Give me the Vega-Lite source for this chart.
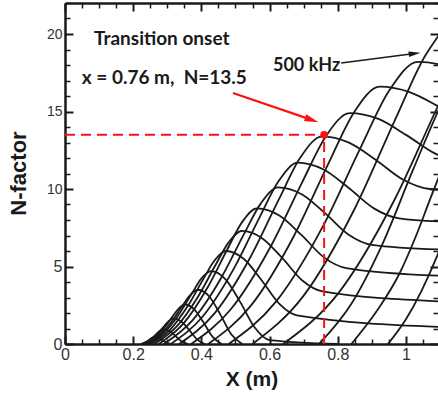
{
"$schema": "https://vega.github.io/schema/vega-lite/v6.json",
"width": 373, "height": 341,
"autosize": "none",
"padding": {"left": 65, "top": 3, "right": 0, "bottom": 52},
"background": "white",
"config": {"view": {"stroke": null}},
"datasets": {
"curves": [
{"f":1,"x":0.222,"n":0},{"f":1,"x":0.232,"n":0.07},{"f":1,"x":0.242,"n":0.19},{"f":1,"x":0.25,"n":0.32},{"f":1,"x":0.256,"n":0.41},{"f":1,"x":0.262,"n":0.45},{"f":1,"x":0.274,"n":0.4},{"f":1,"x":0.286,"n":0.25},{"f":1,"x":0.298,"n":0.08},{"f":1,"x":0.31,"n":0},
{"f":2,"x":0.225,"n":0},{"f":2,"x":0.2408,"n":0.14},{"f":2,"x":0.2565,"n":0.4},{"f":2,"x":0.2691,"n":0.67},{"f":2,"x":0.2786,"n":0.86},{"f":2,"x":0.288,"n":0.95},{"f":2,"x":0.306,"n":0.84},{"f":2,"x":0.324,"n":0.52},{"f":2,"x":0.342,"n":0.17},{"f":2,"x":0.36,"n":0},
{"f":3,"x":0.228,"n":0},{"f":3,"x":0.2505,"n":0.25},{"f":3,"x":0.273,"n":0.69},{"f":3,"x":0.291,"n":1.16},{"f":3,"x":0.3045,"n":1.49},{"f":3,"x":0.318,"n":1.65},{"f":3,"x":0.341,"n":1.45},{"f":3,"x":0.364,"n":0.91},{"f":3,"x":0.387,"n":0.3},{"f":3,"x":0.41,"n":0},
{"f":4,"x":0.232,"n":0},{"f":4,"x":0.262,"n":0.38},{"f":4,"x":0.292,"n":1.07},{"f":4,"x":0.316,"n":1.79},{"f":4,"x":0.334,"n":2.3},{"f":4,"x":0.352,"n":2.55},{"f":4,"x":0.379,"n":2.24},{"f":4,"x":0.406,"n":1.4},{"f":4,"x":0.433,"n":0.46},{"f":4,"x":0.46,"n":0},
{"f":5,"x":0.237,"n":0},{"f":5,"x":0.2753,"n":0.53},{"f":5,"x":0.3135,"n":1.47},{"f":5,"x":0.3441,"n":2.45},{"f":5,"x":0.3671,"n":3.15},{"f":5,"x":0.39,"n":3.5},{"f":5,"x":0.4225,"n":3.08},{"f":5,"x":0.455,"n":1.93},{"f":5,"x":0.4875,"n":0.63},{"f":5,"x":0.52,"n":0},
{"f":6,"x":0.244,"n":0},{"f":6,"x":0.29,"n":0.71},{"f":6,"x":0.336,"n":1.97},{"f":6,"x":0.3728,"n":3.29},{"f":6,"x":0.4004,"n":4.23},{"f":6,"x":0.428,"n":4.7},{"f":6,"x":0.471,"n":4.17},{"f":6,"x":0.514,"n":2.7},{"f":6,"x":0.557,"n":1.05},{"f":6,"x":0.6,"n":0.25},{"f":6,"x":0.8,"n":0},
{"f":7,"x":0.252,"n":0},{"f":7,"x":0.307,"n":0.9},{"f":7,"x":0.362,"n":2.52},{"f":7,"x":0.406,"n":4.2},{"f":7,"x":0.439,"n":5.4},{"f":7,"x":0.472,"n":6},{"f":7,"x":0.524,"n":5.5},{"f":7,"x":0.576,"n":4.13},{"f":7,"x":0.628,"n":2.6},{"f":7,"x":0.68,"n":1.85},{"f":7,"x":1.1,"n":1.1},
{"f":8,"x":0.262,"n":0},{"f":8,"x":0.3263,"n":1.1},{"f":8,"x":0.3905,"n":3.07},{"f":8,"x":0.4419,"n":5.11},{"f":8,"x":0.4805,"n":6.57},{"f":8,"x":0.519,"n":7.3},{"f":8,"x":0.578,"n":6.83},{"f":8,"x":0.637,"n":5.55},{"f":8,"x":0.696,"n":4.1},{"f":8,"x":0.755,"n":3.4},{"f":8,"x":1.1,"n":2.75},
{"f":9,"x":0.275,"n":0},{"f":9,"x":0.347,"n":1.31},{"f":9,"x":0.419,"n":3.68},{"f":9,"x":0.4766,"n":6.13},{"f":9,"x":0.5198,"n":7.88},{"f":9,"x":0.563,"n":8.75},{"f":9,"x":0.6285,"n":8.29},{"f":9,"x":0.694,"n":7.02},{"f":9,"x":0.7595,"n":5.59},{"f":9,"x":0.825,"n":4.9},{"f":9,"x":1.1,"n":4.4},
{"f":10,"x":0.29,"n":0},{"f":10,"x":0.3738,"n":1.52},{"f":10,"x":0.4575,"n":4.24},{"f":10,"x":0.5245,"n":7.07},{"f":10,"x":0.5748,"n":9.09},{"f":10,"x":0.625,"n":10.1},{"f":10,"x":0.694,"n":9.66},{"f":10,"x":0.7625,"n":8.44},{"f":10,"x":0.831,"n":7.07},{"f":10,"x":0.9,"n":6.4},{"f":10,"x":1.1,"n":6.1},
{"f":11,"x":0.31,"n":0},{"f":11,"x":0.4033,"n":1.76},{"f":11,"x":0.4965,"n":4.91},{"f":11,"x":0.5711,"n":8.19},{"f":11,"x":0.6271,"n":10.53},{"f":11,"x":0.683,"n":11.7},{"f":11,"x":0.757,"n":11.27},{"f":11,"x":0.8315,"n":10.08},{"f":11,"x":0.906,"n":8.75},{"f":11,"x":0.98,"n":8.1},{"f":11,"x":1.1,"n":7.9},
{"f":12,"x":0.335,"n":0},{"f":12,"x":0.4398,"n":2.01},{"f":12,"x":0.5445,"n":5.63},{"f":12,"x":0.6283,"n":9.38},{"f":12,"x":0.6912,"n":12.06},{"f":12,"x":0.754,"n":13.4},{"f":12,"x":0.833,"n":12.99},{"f":12,"x":0.912,"n":11.87},{"f":12,"x":0.991,"n":10.61},{"f":12,"x":1.07,"n":10},{"f":12,"x":1.2,"n":9.9},
{"f":13,"x":0.37,"n":0},{"f":13,"x":0.4863,"n":2.24},{"f":13,"x":0.6025,"n":6.26},{"f":13,"x":0.6955,"n":10.43},{"f":13,"x":0.7653,"n":13.41},{"f":13,"x":0.835,"n":14.9},{"f":13,"x":0.919,"n":14.52},{"f":13,"x":1.0025,"n":13.46},{"f":13,"x":1.086,"n":12.28},{"f":13,"x":1.17,"n":11.7},{"f":13,"x":1.3,"n":11.6},
{"f":14,"x":0.42,"n":0},{"f":14,"x":0.5458,"n":2.49},{"f":14,"x":0.6715,"n":6.97},{"f":14,"x":0.7721,"n":11.62},{"f":14,"x":0.8476,"n":14.94},{"f":14,"x":0.923,"n":16.6},{"f":14,"x":1.0123,"n":16.24},{"f":14,"x":1.1015,"n":15.25},{"f":14,"x":1.19,"n":14.14},{"f":14,"x":1.28,"n":13.6},
{"f":15,"x":0.48,"n":0},{"f":15,"x":0.6188,"n":2.73},{"f":15,"x":0.7575,"n":7.64},{"f":15,"x":0.8685,"n":12.74},{"f":15,"x":0.9518,"n":16.38},{"f":15,"x":1.035,"n":18.2},{"f":15,"x":1.129,"n":17.85},{"f":15,"x":1.2225,"n":16.9},{"f":15,"x":1.316,"n":15.82},{"f":15,"x":1.41,"n":15.3},
{"f":16,"x":0.55,"n":0},{"f":16,"x":0.7,"n":3.12},{"f":16,"x":0.85,"n":8.74},{"f":16,"x":0.97,"n":14.56},{"f":16,"x":1.06,"n":18.72},{"f":16,"x":1.15,"n":20.8},{"f":16,"x":1.25,"n":20.4},
{"f":17,"x":0.64,"n":0},{"f":17,"x":0.8025,"n":3.3},{"f":17,"x":0.965,"n":9.24},{"f":17,"x":1.095,"n":15.4},{"f":17,"x":1.1925,"n":19.8},{"f":17,"x":1.29,"n":22},
{"f":18,"x":0.745,"n":0},{"f":18,"x":0.84,"n":2.6},{"f":18,"x":0.93,"n":6.4},{"f":18,"x":1.02,"n":11.2},{"f":18,"x":1.1,"n":15.3},{"f":18,"x":1.2,"n":19.5},
{"f":19,"x":0.84,"n":0},{"f":19,"x":0.92,"n":2.3},{"f":19,"x":0.98,"n":4.5},{"f":19,"x":1.03,"n":7},{"f":19,"x":1.07,"n":9.3},{"f":19,"x":1.15,"n":13.8},
{"f":20,"x":0.947,"n":0},{"f":20,"x":1.0,"n":1.6},{"f":20,"x":1.045,"n":3.4},{"f":20,"x":1.09,"n":5.6},{"f":20,"x":1.14,"n":8.5}
],
"onset": [{"x":0.76,"n":13.5}],
"hline": [{"x0":0,"x1":0.76,"n":13.5}],
"vline": [{"x":0.76,"n0":0,"n1":13.5}],
"blackArrow": [{"x":0.81,"n":18.13},{"x":1.0255,"n":18.74}],
"blackHead": [{"x":1.0255,"n":18.74}],
"redArrow": [{"x":0.4927,"n":16.19},{"x":0.7238,"n":14.46}],
"redHead": [{"x":0.7238,"n":14.46}],
"labelsA": [
{"x":0.085,"n":19.31,"t":"Transition onset"},
{"x":0.049,"n":16.79,"t":"x = 0.76 m,\u00a0 N=13.5"}
],
"labelsB": [
{"x":0.61,"n":17.63,"t":"500 kHz"}
]
},
"layer": [
{
"data": {"name": "curves"},
"mark": {"type": "line", "interpolate": "monotone", "clip": true, "color": "#1a1a1a", "strokeWidth": 1.8},
"encoding": {
"x": {"field": "x", "type": "quantitative", "scale": {"domain": [0, 1.094], "nice": false, "zero": false},
"axis": {"orient": "bottom",
"values": [0,0.05,0.1,0.15,0.2,0.25,0.3,0.35,0.4,0.45,0.5,0.55,0.6,0.65,0.7,0.75,0.8,0.85,0.9,0.95,1,1.05],
"format": "~g",
"labelExpr": "abs(datum.value*5-round(datum.value*5))<0.001 ? datum.label : ''",
"tickSize": {"condition": {"test": "abs(datum.value*5-round(datum.value*5))<0.001", "value": -8}, "value": -5},
"tickWidth": {"condition": {"test": "abs(datum.value*5-round(datum.value*5))<0.001", "value": 2}, "value": 1.5},
"tickColor": "#1a1a1a", "domainColor": "#1a1a1a", "domainWidth": 2.5,
"labelFont": "Liberation Sans", "labelFontSize": 16, "labelColor": "#333333", "labelPadding": 10,
"labelFlush": false, "labelOverlap": false, "labelBound": false, "grid": false,
"title": "X (m)", "titleFont": "Liberation Sans", "titleFontSize": 21, "titleFontWeight": "bold", "titleColor": "#1a1a1a",
"titleX": 186.5, "titleY": 41, "titleBaseline": "alphabetic", "titleAlign": "center"}},
"y": {"field": "n", "type": "quantitative", "scale": {"domain": [0, 22], "nice": false, "zero": false},
"axis": {"orient": "left",
"values": [0,1,2,3,4,5,6,7,8,9,10,11,12,13,14,15,16,17,18,19,20,21,22],
"labelExpr": "datum.value % 5 == 0 ? (datum.value >= 10 ? datum.label + '\u00a0\u00a0\u00a0' : datum.label) : ''",
"tickSize": {"condition": {"test": "datum.value % 5 == 0", "value": -8}, "value": -5},
"tickWidth": {"condition": {"test": "datum.value % 5 == 0", "value": 2}, "value": 1.5},
"labelFontSize": {"condition": {"test": "datum.value >= 10", "value": 14}, "value": 16},
"tickColor": "#1a1a1a", "domainColor": "#1a1a1a", "domainWidth": 2.5,
"labelFont": "Liberation Sans", "labelColor": "#333333", "labelPadding": 11,
"labelOverlap": false, "labelBound": false, "labelFlush": false, "grid": false,
"title": "N-factor", "titleFont": "Liberation Sans", "titleFontSize": 22, "titleFontWeight": "bold", "titleColor": "#1a1a1a",
"titleX": -40, "titleY": 170, "titleAngle": 270, "titleBaseline": "alphabetic", "titleAlign": "center"}},
"detail": {"field": "f", "type": "nominal"}
}
},
{
"data": {"name": "hline"},
"mark": {"type": "rule", "color": "#ff1010", "strokeWidth": 2, "strokeDash": [10, 6]},
"encoding": {
"x": {"field": "x0", "type": "quantitative", "scale": {"domain": [0, 1.094], "nice": false, "zero": false},
"axis": {"orient": "top",
"values": [0,0.05,0.1,0.15,0.2,0.25,0.3,0.35,0.4,0.45,0.5,0.55,0.6,0.65,0.7,0.75,0.8,0.85,0.9,0.95,1,1.05],
"labels": false, "title": null, "grid": false,
"tickSize": {"condition": {"test": "abs(datum.value*5-round(datum.value*5))<0.001", "value": -8}, "value": -5},
"tickWidth": {"condition": {"test": "abs(datum.value*5-round(datum.value*5))<0.001", "value": 2}, "value": 1.5},
"tickColor": "#1a1a1a", "domainColor": "#1a1a1a", "domainWidth": 2.5}},
"x2": {"field": "x1"},
"y": {"field": "n", "type": "quantitative", "scale": {"domain": [0, 22], "nice": false, "zero": false},
"axis": {"orient": "right",
"values": [0,1,2,3,4,5,6,7,8,9,10,11,12,13,14,15,16,17,18,19,20,21,22],
"labels": false, "title": null, "grid": false, "domain": false,
"tickSize": {"condition": {"test": "datum.value % 5 == 0", "value": -8}, "value": -5},
"tickWidth": {"condition": {"test": "datum.value % 5 == 0", "value": 2}, "value": 1.5},
"tickColor": "#1a1a1a"}}
}
},
{
"data": {"name": "vline"},
"mark": {"type": "rule", "color": "#ff1010", "strokeWidth": 2, "strokeDash": [10, 6]},
"encoding": {
"x": {"field": "x", "type": "quantitative", "scale": {"domain": [0, 1.094], "nice": false, "zero": false}, "axis": null},
"y": {"field": "n0", "type": "quantitative", "scale": {"domain": [0, 22], "nice": false, "zero": false}, "axis": null},
"y2": {"field": "n1"}
}
},
{
"data": {"name": "onset"},
"mark": {"type": "point", "shape": "circle", "filled": true, "color": "#ff1010", "size": 60, "opacity": 1},
"encoding": {
"x": {"field": "x", "type": "quantitative", "scale": {"domain": [0, 1.094], "nice": false, "zero": false}, "axis": null},
"y": {"field": "n", "type": "quantitative", "scale": {"domain": [0, 22], "nice": false, "zero": false}, "axis": null}
}
},
{
"data": {"name": "blackArrow"},
"mark": {"type": "line", "color": "#1a1a1a", "strokeWidth": 1.6},
"encoding": {
"x": {"field": "x", "type": "quantitative", "scale": {"domain": [0, 1.094], "nice": false, "zero": false}, "axis": null},
"y": {"field": "n", "type": "quantitative", "scale": {"domain": [0, 22], "nice": false, "zero": false}, "axis": null}
}
},
{
"data": {"name": "blackHead"},
"mark": {"type": "point", "shape": "M-1,-0.45L1,0L-1,0.45Z", "filled": true, "color": "#1a1a1a", "size": 144, "angle": 352.7, "opacity": 1},
"encoding": {
"x": {"field": "x", "type": "quantitative", "scale": {"domain": [0, 1.094], "nice": false, "zero": false}, "axis": null},
"y": {"field": "n", "type": "quantitative", "scale": {"domain": [0, 22], "nice": false, "zero": false}, "axis": null}
}
},
{
"data": {"name": "redArrow"},
"mark": {"type": "line", "color": "#ff1010", "strokeWidth": 2.2},
"encoding": {
"x": {"field": "x", "type": "quantitative", "scale": {"domain": [0, 1.094], "nice": false, "zero": false}, "axis": null},
"y": {"field": "n", "type": "quantitative", "scale": {"domain": [0, 22], "nice": false, "zero": false}, "axis": null}
}
},
{
"data": {"name": "redHead"},
"mark": {"type": "point", "shape": "M-1,-0.5L1,0L-1,0.5Z", "filled": true, "color": "#ff1010", "size": 196, "angle": 18.8, "opacity": 1},
"encoding": {
"x": {"field": "x", "type": "quantitative", "scale": {"domain": [0, 1.094], "nice": false, "zero": false}, "axis": null},
"y": {"field": "n", "type": "quantitative", "scale": {"domain": [0, 22], "nice": false, "zero": false}, "axis": null}
}
},
{
"data": {"name": "labelsA"},
"mark": {"type": "text", "font": "Lato", "fontWeight": "bold", "fontSize": 19, "color": "#1a1a1a", "align": "left", "baseline": "alphabetic"},
"encoding": {
"x": {"field": "x", "type": "quantitative", "scale": {"domain": [0, 1.094], "nice": false, "zero": false}, "axis": null},
"y": {"field": "n", "type": "quantitative", "scale": {"domain": [0, 22], "nice": false, "zero": false}, "axis": null},
"text": {"field": "t"}
}
},
{
"data": {"name": "labelsB"},
"mark": {"type": "text", "font": "Lato", "fontWeight": "bold", "fontSize": 18, "color": "#1a1a1a", "align": "left", "baseline": "alphabetic"},
"encoding": {
"x": {"field": "x", "type": "quantitative", "scale": {"domain": [0, 1.094], "nice": false, "zero": false}, "axis": null},
"y": {"field": "n", "type": "quantitative", "scale": {"domain": [0, 22], "nice": false, "zero": false}, "axis": null},
"text": {"field": "t"}
}
}
],
"resolve": {"axis": {"x": "independent", "y": "independent"}}
}
